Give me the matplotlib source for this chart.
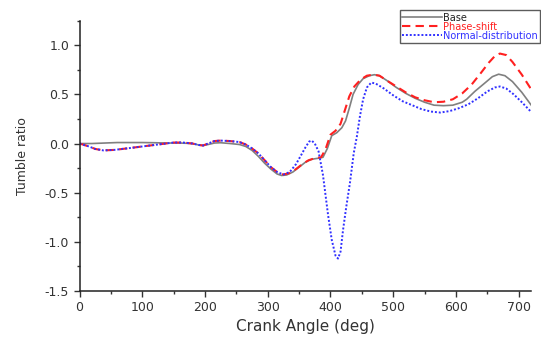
import matplotlib.pyplot as plt
from matplotlib.ticker import MultipleLocator

plt.rcParams['font.family'] = ['DejaVu Sans']

# crank angle (deg) / tumble ratio
base_x = [0, 20, 40, 60, 80, 100, 120, 140, 160, 180, 190, 197, 205, 215, 225,
          240, 255, 265, 275, 285, 295, 305, 315, 322, 330, 340, 350, 360, 370,
          380, 388, 395, 402, 410, 418, 424, 430, 436, 444, 452, 462, 470, 478,
          490, 505, 520, 535, 550, 565, 580, 595, 610, 617, 630, 645, 658, 668,
          678, 690, 705, 720]
base_y = [0.0, 0.0, 0.005, 0.01, 0.01, 0.01, 0.008, 0.005, 0.005, 0.0, -0.015,
          -0.02, -0.01, 0.005, 0.008, 0.0, -0.01, -0.03, -0.07, -0.13, -0.2,
          -0.26, -0.31, -0.325, -0.32, -0.29, -0.24, -0.19, -0.16, -0.15, -0.14,
          -0.05, 0.08, 0.11, 0.16, 0.23, 0.36, 0.5, 0.6, 0.66, 0.69, 0.7, 0.69,
          0.64, 0.57, 0.51, 0.46, 0.42, 0.39, 0.385, 0.39, 0.42, 0.45, 0.53,
          0.61, 0.68, 0.705, 0.69, 0.63, 0.52, 0.39]

phase_x = [0, 15, 25, 38, 55, 75, 100, 125, 150, 165, 180, 190, 197, 205, 215,
           225, 240, 255, 265, 275, 285, 295, 305, 315, 325, 335, 345, 355, 365,
           375, 385, 392, 400, 408, 416, 424, 430, 438, 448, 458, 468, 478, 490,
           505, 520, 535, 550, 565, 580, 595, 610, 625, 640, 652, 662, 670, 680,
           690, 705, 720]
phase_y = [0.0, -0.03, -0.055, -0.07, -0.065, -0.05, -0.03, -0.01, 0.01, 0.01,
           0.0, -0.015, -0.02, 0.0, 0.025, 0.03, 0.025, 0.015, -0.01, -0.05,
           -0.1, -0.17, -0.24, -0.29, -0.315, -0.3, -0.26, -0.21, -0.17, -0.15,
           -0.14, -0.06, 0.09, 0.13, 0.2, 0.36, 0.48, 0.58, 0.65, 0.69, 0.7,
           0.69, 0.64, 0.58, 0.52, 0.47, 0.44, 0.42, 0.425, 0.45, 0.51, 0.6,
           0.72, 0.82, 0.89, 0.915, 0.9, 0.83, 0.7, 0.55]

normal_x = [0, 15, 25, 38, 55, 75, 100, 125, 150, 165, 180, 190, 197, 205, 215,
            225, 240, 255, 265, 275, 285, 295, 305, 315, 325, 335, 345, 353, 360,
            366, 370, 375, 381, 388, 396, 402, 408, 412, 416, 420, 425, 431, 437,
            442, 447, 452, 458, 465, 472, 485, 500, 515, 530, 545, 560, 575, 590,
            605, 620, 635, 650, 662, 670, 680, 692, 705, 720]
normal_y = [0.0, -0.03, -0.055, -0.07, -0.065, -0.05, -0.03, -0.01, 0.01, 0.01,
            0.0, -0.015, -0.02, 0.0, 0.025, 0.03, 0.025, 0.015, -0.01, -0.05,
            -0.1, -0.17, -0.24, -0.29, -0.315, -0.29, -0.21, -0.12, -0.04, 0.02,
            0.03, 0.0, -0.08, -0.32, -0.72, -0.98, -1.14, -1.17, -1.1, -0.88,
            -0.65, -0.4, -0.1, 0.07, 0.28, 0.45, 0.57, 0.62, 0.61, 0.56, 0.49,
            0.43, 0.39, 0.35, 0.325, 0.315, 0.33, 0.36, 0.4, 0.46, 0.53, 0.57,
            0.58, 0.56, 0.5, 0.42, 0.32]

fig = plt.figure(figsize=(5.41, 3.38), dpi=100)
ax = fig.add_axes([0.147, 0.139, 0.835, 0.8])

ax.plot(base_x, base_y, color='#808080', lw=1.2, label='Base')
ax.plot(phase_x, phase_y, color='#ff2020', lw=1.5, ls=(0, (4, 2.5)), label='Phase-shift')
ax.plot(normal_x, normal_y, color='#3030ff', lw=1.4, ls=(0, (1, 1)), label='Normal-distribution')

ax.set_xlim(0, 720)
ax.set_ylim(-1.5, 1.25)
ax.xaxis.set_major_locator(MultipleLocator(100))
ax.xaxis.set_minor_locator(MultipleLocator(50))
ax.yaxis.set_major_locator(MultipleLocator(0.5))
ax.yaxis.set_minor_locator(MultipleLocator(0.25))
ax.tick_params(which='major', length=4, width=1, labelsize=9, colors='#333333')
ax.tick_params(which='minor', length=2.5, width=1, colors='#333333')
ax.yaxis.set_major_formatter(plt.FuncFormatter(lambda v, p: f'{v:.1f}'))

for s in ('top', 'right'):
    ax.spines[s].set_visible(False)
for s in ('left', 'bottom'):
    ax.spines[s].set_linewidth(1.1)
    ax.spines[s].set_color('#222222')

ax.set_xlabel('Crank Angle (deg)', fontsize=11, color='#333333', labelpad=3)
ax.set_ylabel('Tumble ratio', fontsize=9, color='#333333', labelpad=11)

leg = fig.legend(loc='upper right', bbox_to_anchor=(0.999, 0.97), fontsize=7,
                 frameon=True, fancybox=False, edgecolor='#333333',
                 handlelength=4.1, handletextpad=0.15, borderpad=0.25,
                 labelspacing=-0.1, borderaxespad=0)
leg.get_frame().set_linewidth(1.0)
for t, c in zip(leg.get_texts(), ['#222222', '#ff2020', '#3030ff']):
    t.set_color(c)

fig.savefig('out.png', dpi=100)
